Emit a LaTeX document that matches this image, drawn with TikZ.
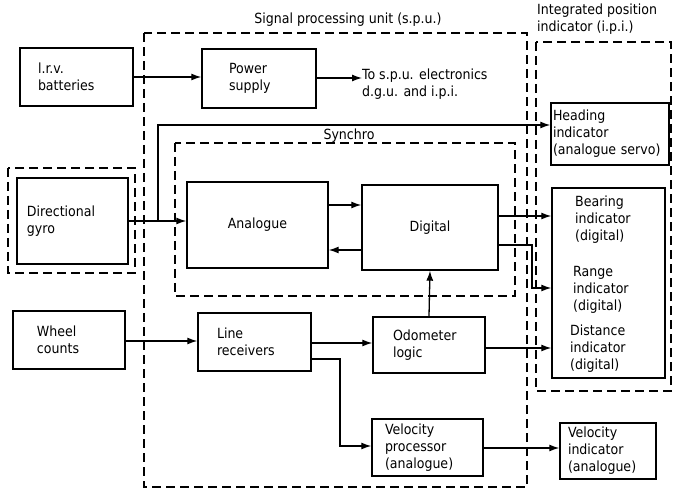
\documentclass[tikz,border=0pt]{standalone}
\usepackage{fontspec}
\setmainfont{DejaVu Sans Condensed}
\usetikzlibrary{arrows.meta}
\begin{document}
\begin{tikzpicture}[x=1pt,y=-1pt,
  font=\fontsize{14}{17}\selectfont,
  box/.style={draw, line width=1.4pt, align=left, inner ysep=0pt},
  dbox/.style={draw, line width=1.2pt, dash pattern=on 9pt off 5pt},
  arr/.style={line width=1.3pt, -{Latex[length=10pt,width=7pt]}},
  lbl/.style={inner sep=0pt, align=left}]
\useasboundingbox (0,0) rectangle (673,492);
% dashed enclosures
\draw[dbox] (144,33) rectangle (527,487);
\draw[dbox] (536,42) rectangle (671,391);
\draw[dbox] (175,143) rectangle (515,296);
\draw[dbox] (8,168) rectangle (135,273);
% titles
\node[lbl] (tspu) at (348,20) {Signal processing unit (s.p.u.)};
\node[lbl, anchor=north west] (tipi) at (537,4) {Integrated position\\indicator (i.p.i.)};
\node[lbl] (tsyn) at (349,136) {Synchro};
% boxes
\node[box, minimum width=113pt, minimum height=58pt, text width=77pt, inner xsep=18pt] (lrv) at (76.5,77) {l.r.v.\\batteries};
\node[box, minimum width=114pt, minimum height=59pt, text width=60pt, inner xsep=27pt] (ps) at (259,78.5) {Power\\supply};
\node[lbl, anchor=north west] (to) at (362,69) {To s.p.u. electronics\\d.g.u. and i.p.i.};
\node[box, minimum width=111pt, minimum height=86pt, text width=91pt, inner xsep=10pt] (gyro) at (72.5,221) {Directional\\gyro};
\node[box, minimum width=141pt, minimum height=86pt, align=center] (ana) at (257.5,225) {Analogue};
\node[box, minimum width=136pt, minimum height=85pt, align=center] (dig) at (430,227.5) {Digital};
\node[box, minimum width=118pt, minimum height=62pt, text width=114pt, inner xsep=2pt] (head) at (610,134) {Heading\\indicator\\(analogue servo)};
\node[box, minimum width=113pt, minimum height=190pt] (ind) at (608.5,283) {};
\node[lbl, anchor=west] (bear) at (575,220) {Bearing\\indicator\\(digital)};
\node[lbl, anchor=west] (rng) at (573,290) {Range\\indicator\\(digital)};
\node[lbl, anchor=west] (dist) at (570,349) {Distance\\indicator\\(digital)};
\node[box, minimum width=112pt, minimum height=58pt, text width=64pt, inner xsep=24pt] (wheel) at (69,340) {Wheel\\counts};
\node[box, minimum width=113pt, minimum height=58pt, text width=75pt, inner xsep=19pt] (lr) at (254.5,342) {Line\\receivers};
\node[box, minimum width=112pt, minimum height=56pt, text width=72pt, inner xsep=20pt] (odo) at (429,345) {Odometer\\logic};
\node[box, minimum width=111pt, minimum height=57pt, text width=85pt, inner xsep=13pt] (vp) at (427.5,447.5) {Velocity\\processor\\(analogue)};
\node[box, minimum width=96pt, minimum height=56pt, text width=80pt, inner xsep=8pt] (vi) at (608,451) {Velocity\\indicator\\(analogue)};
% connectors
\draw[arr] (lrv.east |- 0,77) -- (ps.west |- 0,77);
\draw[arr] (ps.east |- 0,78) -- (to.west |- 0,78);
\coordinate (br) at (158,221);
\draw[arr] (gyro.east |- 0,221) -- (ana.west |- 0,221);
\draw[arr] (br) |- (head.west |- 0,125);
\draw[arr] (ana.east |- 0,205) -- (dig.west |- 0,205);
\draw[arr] (dig.west |- 0,250) -- (ana.east |- 0,250);
\draw[arr] (dig.east |- 0,216) -- (ind.west |- 0,216);
\draw[arr] (dig.east |- 0,245) -- (532,245) |- (ind.west |- 0,288);
\draw[arr] (odo.north) -- (dig.south);
\draw[arr] (wheel.east |- 0,341) -- (lr.west |- 0,341);
\draw[arr] (lr.east |- 0,343) -- (odo.west |- 0,343);
\draw[arr] (odo.east |- 0,348) -- (ind.west |- 0,348);
\draw[arr] (lr.east |- 0,359) -- (340,359) |- (vp.west |- 0,446);
\draw[arr] (vp.east |- 0,448) -- (vi.west |- 0,448);
\end{tikzpicture}
\end{document}
